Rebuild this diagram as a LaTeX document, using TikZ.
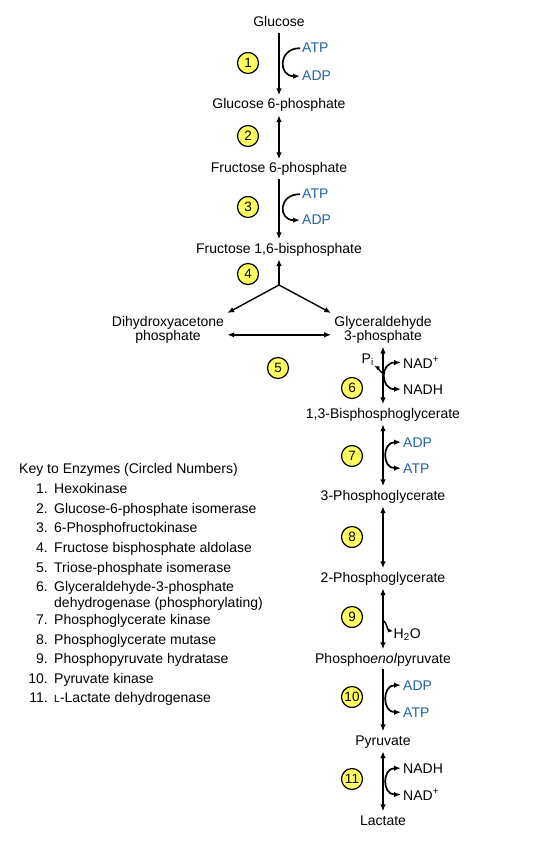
\documentclass[tikz,border=0pt]{standalone}
\usepackage{fontspec}
\setmainfont{Liberation Sans}
\usetikzlibrary{arrows.meta}
\definecolor{cofblue}{RGB}{35,100,165}
\definecolor{enzyellow}{RGB}{255,255,95}
\begin{document}
\begin{tikzpicture}[x=1pt,y=-1pt,
  font=\fontsize{14}{16}\selectfont,
  >={Latex[length=7pt,width=5.5pt]},
  met/.style={inner xsep=2pt,inner ysep=3pt,text height=10.5pt,text depth=3pt,anchor=base},
  mettwo/.style={inner sep=3pt,align=center,font=\fontsize{14}{13}\selectfont},
  enz/.style={circle,draw,line width=1.2pt,fill=enzyellow,minimum size=21pt,inner sep=0pt,font=\fontsize{13.5}{13.5}\selectfont},
  cof/.style={inner xsep=2pt,inner ysep=1pt,anchor=base west},
  cofb/.style={cof,text=cofblue},
  ln/.style={line width=1.4pt},
  cv/.style={line width=1.7pt},
  keyt/.style={anchor=base west,inner sep=0pt},
  keyn/.style={anchor=base east,inner sep=0pt}]
\useasboundingbox (0,0) rectangle (539,850);
\fill[white] (0,0) rectangle (539,850);

% metabolites
\node[met] (glc) at (279,27) {Glucose};
\node[met] (g6p) at (279,109) {Glucose 6-phosphate};
\node[met] (f6p) at (279,173) {Fructose 6-phosphate};
\node[met] (fbp) at (279,253) {Fructose 1,6-bisphosphate};
\node[mettwo] (dhap) at (168,329.8) {Dihydroxyacetone\\phosphate};
\node[mettwo] (gap) at (383,329.8) {Glyceraldehyde\\3-phosphate};
\node[met] (bpg) at (383,418) {1,3-Bisphosphoglycerate};
\node[met] (pg3) at (383,500) {3-Phosphoglycerate};
\node[met] (pg2) at (383,582) {2-Phosphoglycerate};
\node[met] (pep) at (383,663) {Phospho\textit{enol}pyruvate};
\node[met] (pyr) at (383,745) {Pyruvate};
\node[met] (lac) at (383,825) {Lactate};

% enzymes
\node[enz] (e1) at (248,63) {1};
\node[enz] (e2) at (248,136) {2};
\node[enz] (e3) at (248,207) {3};
\node[enz] (e4) at (248,274) {4};
\node[enz] (e5) at (278,368) {5};
\node[enz] (e6) at (352,388) {6};
\node[enz] (e7) at (352,456) {7};
\node[enz] (e8) at (352,537) {8};
\node[enz] (e9) at (352,617) {9};
\node[enz] (e10) at (352,697) {10};
\node[enz] (e11) at (352,779) {11};

% main arrows
\draw[ln,->] (glc) -- (g6p);
\draw[ln,<->] (g6p) -- (f6p);
\draw[ln,->] (f6p) -- (fbp);
\coordinate (junc) at (279,285);
\draw[ln,->] (junc) -- (fbp);
\draw[ln,->] (junc) -- (dhap.north east);
\draw[ln,->] (junc) -- (gap.north west);
\draw[ln,<->] ([yshift=-5pt]dhap.east) -- ([yshift=-5pt]gap.west);
\draw[ln,<->] (gap) -- (bpg);
\draw[ln,<->] (bpg) -- (pg3);
\draw[ln,<->] (pg3) -- (pg2);
\draw[ln,<->] (pg2) -- (pep);
\draw[ln,->] (pep) -- (pyr);
\draw[ln,<->] (pyr) -- (lac);

% cofactors
\node[cofb] (atp1) at (300,53) {ATP};
\node[cofb] (adp1) at (300,81) {ADP};
\draw[cv,->] (atp1.west) .. controls +(-22,0) and +(-22,0) .. (adp1.west);

\node[cofb] (atp3) at (300,199) {ATP};
\node[cofb] (adp3) at (300,225) {ADP};
\draw[cv,->] (atp3.west) .. controls +(-22,0) and +(-22,0) .. (adp3.west);

\node[cof] (nad6) at (401,368) {NAD\textsuperscript{+}};
\node[cof] (nadh6) at (401,394) {NADH};
\draw[cv,<->] (nad6.west) .. controls +(-21,0) and +(-21,0) .. (nadh6.west);
\node[anchor=base west,inner sep=0.5pt] (pi) at (361,363) {P\textsubscript{i}};
\coordinate (pis) at (382,373);
\draw[ln,-{Latex[length=5pt,width=4.5pt]}] (pis) to[out=135,in=-30] (pi.south east);

\node[cofb] (adp7) at (401,447) {ADP};
\node[cofb] (atp7) at (401,473) {ATP};
\draw[cv,<->] (adp7.west) .. controls +(-19,0) and +(-19,0) .. (atp7.west);

\node[anchor=base west,inner sep=0.5pt] (h2o) at (393,638) {H\textsubscript{2}O};
\coordinate (hs) at (383,620);
\draw[ln,-{Latex[length=5pt,width=4.5pt]}] (hs) to[out=-40,in=170] ([yshift=3pt]h2o.west);

\node[cofb] (adp10) at (401,690) {ADP};
\node[cofb] (atp10) at (401,717) {ATP};
\draw[cv,<->] (adp10.west) .. controls +(-19,0) and +(-19,0) .. (atp10.west);

\node[cof] (nadh11) at (401,773) {NADH};
\node[cof] (nad11) at (401,800) {NAD\textsuperscript{+}};
\draw[cv,<->] (nadh11.west) .. controls +(-19,0) and +(-19,0) .. (nad11.west);

% key
\node[keyt] (keytitle) at (19,473) {Key to Enzymes (Circled Numbers)};
\node[keyn] (k1n) at (48,493) {1.};   \node[keyt] (k1) at (54,493) {Hexokinase};
\node[keyn] (k2n) at (48,513) {2.};   \node[keyt] (k2) at (54,513) {Glucose-6-phosphate isomerase};
\node[keyn] (k3n) at (48,532) {3.};   \node[keyt] (k3) at (54,532) {6-Phosphofructokinase};
\node[keyn] (k4n) at (48,552) {4.};   \node[keyt] (k4) at (54,552) {Fructose bisphosphate aldolase};
\node[keyn] (k5n) at (48,572) {5.};   \node[keyt] (k5) at (54,572) {Triose-phosphate isomerase};
\node[keyn] (k6n) at (48,591) {6.};   \node[keyt] (k6) at (54,591) {Glyceraldehyde-3-phosphate};
\node[keyt] (k6b) at (54,607) {dehydrogenase (phosphorylating)};
\node[keyn] (k7n) at (48,624) {7.};   \node[keyt] (k7) at (54,624) {Phosphoglycerate kinase};
\node[keyn] (k8n) at (48,644) {8.};   \node[keyt] (k8) at (54,644) {Phosphoglycerate mutase};
\node[keyn] (k9n) at (48,663) {9.};   \node[keyt] (k9) at (54,663) {Phosphopyruvate hydratase};
\node[keyn] (k10n) at (48,683) {10.}; \node[keyt] (k10) at (54,683) {Pyruvate kinase};
\node[keyn] (k11n) at (48,702) {11.}; \node[keyt] (k11) at (54,702) {{\fontsize{10.5}{12}\selectfont L}-Lactate dehydrogenase};
\end{tikzpicture}
\end{document}
